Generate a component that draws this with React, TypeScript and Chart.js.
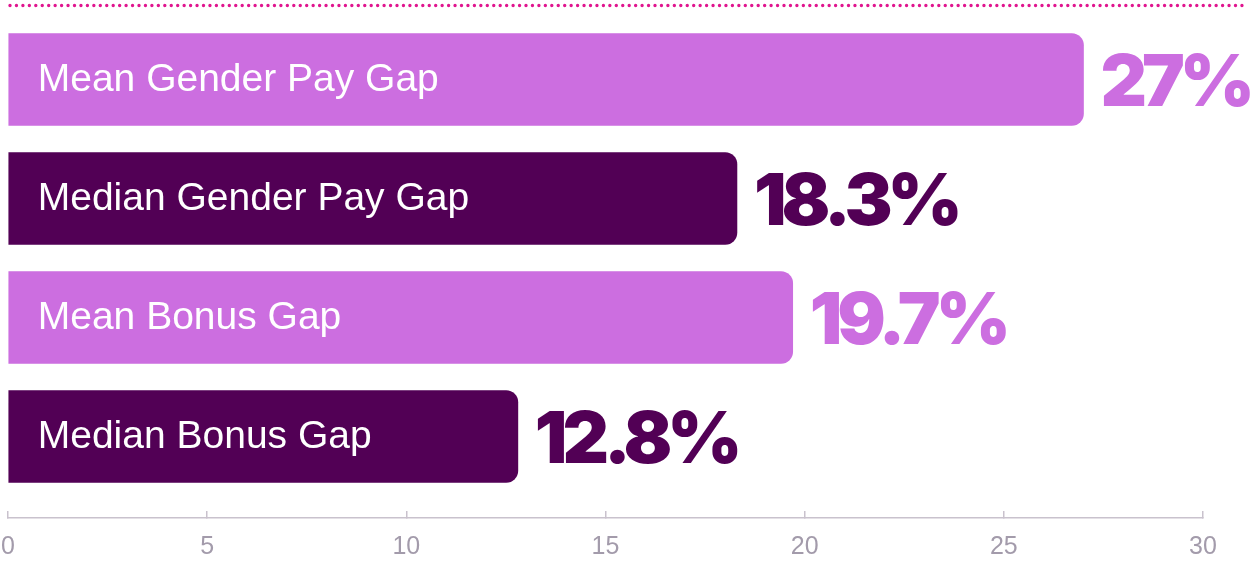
import React, { useEffect, useRef } from "react";
import { Chart, registerables } from "chart.js";

Chart.register(...registerables);

const categories = ["Mean Gender Pay Gap", "Median Gender Pay Gap", "Mean Bonus Gap", "Median Bonus Gap"];
const values = [27, 18.3, 19.7, 12.8];
const valueLabels = ["27%", "18.3%", "19.7%", "12.8%"];
const barColors = ["#cc6ee0", "#520055", "#cc6ee0", "#520055"];
const xMin = 0;
const xMax = 30;
const xStep = 5;

const W = 1256;
const H = 561;

const overlayPlugin = {
  id: "overlay",
  beforeDraw(chart: any) {
    const ctx = chart.ctx;
    const area = chart.chartArea;
    ctx.save();
    ctx.strokeStyle = "#e0168f";
    ctx.lineWidth = 3.4;
    ctx.lineCap = "round";
    ctx.setLineDash([0, 6.45]);
    ctx.beginPath();
    ctx.moveTo(area.left + 2, 5.5);
    ctx.lineTo(1248, 5.5);
    ctx.stroke();
    ctx.restore();
  },
  afterDatasetsDraw(chart: any) {
    const ctx = chart.ctx;
    const meta = chart.getDatasetMeta(0);
    meta.data.forEach((el: any, i: number) => {
      const base = el.base;
      const end = el.x;
      const cy = el.y;
      ctx.save();
      ctx.fillStyle = "#ffffff";
      ctx.font = '39px "Liberation Sans", Arial, sans-serif';
      ctx.textBaseline = "middle";
      ctx.textAlign = "left";
      ctx.fillText(categories[i], base + 29, cy + 1);
      ctx.fillStyle = barColors[i];
      ctx.font = '900 72px Inter, "Noto Sans", sans-serif';
      try { (ctx as any).letterSpacing = "-5px"; } catch (e) {}
      ctx.textBaseline = "alphabetic";
      ctx.fillText(valueLabels[i], end + 17, cy + 26.5);
      ctx.restore();
    });
  },
};

export default function App() {
  const ref = useRef<HTMLCanvasElement | null>(null);
  useEffect(() => {
    if (!ref.current) return;
    const chart = new Chart(ref.current, {
      type: "bar",
      data: {
        datasets: [
          {
            data: values.map((v, i) => ({ x: v, y: i })),
            backgroundColor: barColors,
            borderRadius: 12,
            borderSkipped: "start",
            barThickness: 92,
          },
        ],
      },
      options: {
        indexAxis: "y",
        responsive: false,
        animation: false,
        layout: { padding: { top: 20, left: 8, right: 53, bottom: 0 } },
        plugins: { legend: { display: false }, tooltip: { enabled: false } },
        scales: {
          y: { type: "linear", min: -0.5, max: 3.685, reverse: true, offset: false, display: false },
          x: {
            type: "linear",
            min: xMin,
            max: xMax,
            afterFit: (scale: any) => { scale.height = 43; scale.paddingLeft = 0; scale.paddingRight = 0; },
            ticks: { stepSize: xStep, color: "#a39bab", font: { family: '"Liberation Sans", Arial, sans-serif', size: 25 }, padding: 21, maxRotation: 0 },
            grid: { drawOnChartArea: false, drawTicks: true, tickLength: -7, color: "#c9c2cd", lineWidth: 1.5 },
            border: { display: true, color: "#c9c2cd", width: 1.5 },
          },
        },
      },
      plugins: [overlayPlugin],
    } as any);
    return () => chart.destroy();
  }, []);
  return (
    <div style={{ position: "absolute", left: 0, top: 0, width: W, height: H, background: "#ffffff" }}>
      <canvas ref={ref} width={W} height={H} style={{ display: "block" }} />
    </div>
  );
}
